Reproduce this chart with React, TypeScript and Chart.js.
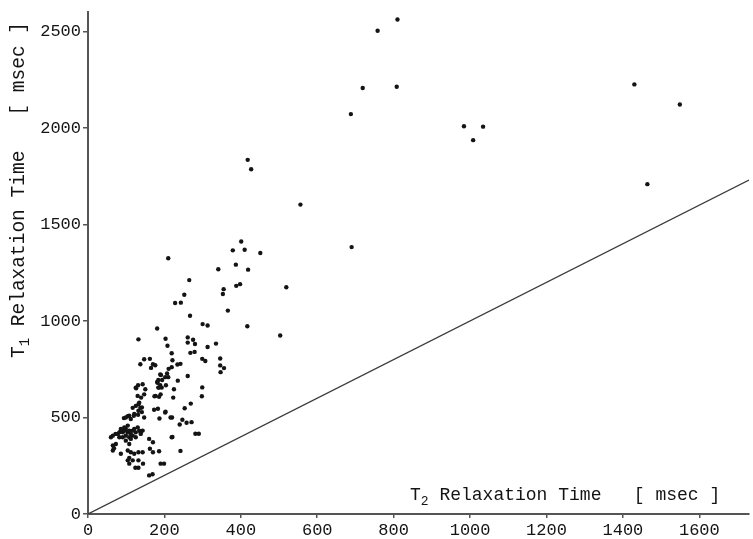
import React, { useEffect, useRef } from "react";
import { Chart, registerables } from "chart.js";

Chart.register(...registerables);

// T2 relaxation time (x, msec) and T1 relaxation time (y, msec) per measured point
const T2_MSEC = [
  810, 758, 719, 808, 688, 984, 1034, 1008, 1430, 1549, 1464, 556, 690, 418, 427, 519, 503,
  401, 379, 410, 451, 210, 341, 387, 419, 265, 355, 353, 388, 398, 252, 228, 243, 366, 267, 300,
  313, 417, 181, 132, 203, 208, 261, 261, 275, 280, 313, 335, 268, 279, 219, 221, 147, 162, 137,
  170, 176, 165, 299, 307, 346, 346, 356, 347, 219, 211, 207, 189, 202, 194, 184, 182, 189, 193,
  204, 210, 235, 225, 261, 223, 174, 186, 203, 220, 253, 269, 247, 240, 258, 271, 221, 242, 281,
  290, 299, 298, 150, 131, 143, 147, 139, 126, 132, 137, 125, 117, 141, 131, 120, 104, 94, 147,
  183, 187, 173, 234, 242, 181, 184, 191,
  60, 65, 72, 78, 82, 86, 91, 95, 99, 104, 108, 112, 117, 121, 125, 134, 138, 143, 82, 91, 99,
  108, 112, 117, 125, 95, 104, 86, 130, 138,
  65, 73, 65, 68, 86, 99, 108, 104, 112, 108, 104, 108, 117, 121, 132, 143, 132, 144, 132, 124,
  160, 170, 162, 170, 186, 190, 199, 160, 169, 202, 216, 219,
  125, 130, 134, 141, 132, 121, 108, 99, 112, 186, 190, 177,
];
const T1_MSEC = [
  2562, 2504, 2207, 2214, 2072, 2009, 2007, 1937, 2226, 2122, 1709, 1603, 1383, 1835, 1786, 1175, 925,
  1412, 1366, 1369, 1352, 1325, 1268, 1292, 1266, 1212, 1165, 1140, 1182, 1191, 1136, 1093, 1095, 1054, 1027, 984,
  977, 973, 961, 905, 908, 872, 915, 888, 903, 881, 865, 883, 835, 840, 833, 797, 802, 804, 776,
  776, 771, 757, 804, 793, 806, 770, 756, 735, 761, 752, 728, 723, 709, 694, 694, 680, 668, 655,
  667, 709, 691, 646, 715, 603, 610, 607, 530, 500, 548, 572, 488, 464, 473, 476, 399, 327, 416,
  416, 656, 610, 646, 667, 672, 620, 603, 651, 569, 550, 560, 550, 528, 514, 509, 507, 497, 500,
  545, 495, 540, 775, 778, 684, 655, 720,
  398, 406, 415, 415, 423, 432, 423, 432, 441, 423, 432, 415, 432, 441, 423, 432, 423, 432, 398, 398, 406,
  398, 389, 406, 398, 449, 458, 441, 449, 415,
  355, 363, 329, 341, 312, 380, 363, 329, 320, 291, 278, 261, 278, 312, 320, 320, 278, 261, 240, 240,
  389, 372, 338, 320, 325, 261, 261, 200, 206, 526, 500, 398,
  655, 612, 577, 552, 535, 518, 509, 500, 492, 655, 620, 612,
];

const X_TICKS = [0, 200, 400, 600, 800, 1000, 1200, 1400, 1600];
const Y_TICKS = [0, 500, 1000, 1500, 2000, 2500];
const X_MAX = 1730;
const Y_MAX = 2600;
const IDENTITY_ENDS = [0, X_MAX];

const X_TITLE = { main: "T", sub: "2", rest: " Relaxation Time   [ msec ]" };
const Y_TITLE = { main: "T", sub: "1", rest: " Relaxation Time   [ msec ]" };

const FONT = '"Liberation Mono", "DejaVu Sans Mono", monospace';
const INK = "#141414";
const AXIS = "#555555";

function drawSubText(ctx: CanvasRenderingContext2D, t: { main: string; sub: string; rest: string }, size: number) {
  ctx.textAlign = "left";
  ctx.textBaseline = "alphabetic";
  ctx.font = `${size}px ${FONT}`;
  ctx.fillText(t.main, 0, 0);
  let w = ctx.measureText(t.main).width;
  ctx.font = `${Math.round(size * 0.7)}px ${FONT}`;
  ctx.fillText(t.sub, w, size * 0.28);
  w += ctx.measureText(t.sub).width;
  ctx.font = `${size}px ${FONT}`;
  ctx.fillText(t.rest, w, 0);
}

const titlePlugin = {
  id: "axisTitles",
  afterDraw(chart: any) {
    const ctx: CanvasRenderingContext2D = chart.ctx;
    ctx.save();
    ctx.fillStyle = INK;
    ctx.translate(410, 500);
    drawSubText(ctx, X_TITLE, 18);
    ctx.restore();

    ctx.save();
    ctx.fillStyle = INK;
    ctx.translate(24, 358);
    ctx.rotate(-Math.PI / 2);
    drawSubText(ctx, Y_TITLE, 19.5);
    ctx.restore();
  },
};

export default function App() {
  const ref = useRef<HTMLCanvasElement | null>(null);

  useEffect(() => {
    document.body.style.margin = "0";
    const canvas = ref.current;
    if (!canvas) return;
    const points = T2_MSEC.map((x, i) => ({ x, y: T1_MSEC[i] }));
    const plain = (v: any) => String(v);
    const chart = new Chart(canvas, {
      type: "scatter",
      data: {
        datasets: [
          {
            type: "line",
            data: IDENTITY_ENDS.map((v) => ({ x: v, y: v })),
            borderColor: "#3a3a3a",
            borderWidth: 1.3,
            pointRadius: 0,
            fill: false,
          } as any,
          {
            data: points,
            backgroundColor: INK,
            borderWidth: 0,
            pointRadius: 2.2,
          },
        ],
      },
      plugins: [titlePlugin],
      options: {
        animation: false,
        responsive: false,
        layout: { padding: { top: 8, right: 0, left: 0, bottom: 0 } },
        plugins: { legend: { display: false }, tooltip: { enabled: false } },
        scales: {
          x: {
            type: "linear",
            min: 0,
            max: X_MAX,
            afterBuildTicks: (s: any) => {
              s.ticks = X_TICKS.map((v) => ({ value: v }));
            },
            afterFit: (s: any) => {
              s.height = 25;
            },
            ticks: {
              font: { family: FONT, size: 17 },
              color: INK,
              padding: 2,
              maxRotation: 0,
              autoSkip: false,
              callback: plain,
            },
            grid: { drawOnChartArea: false, drawTicks: true, tickLength: 4, color: AXIS, lineWidth: 1.5 },
            border: { display: true, color: AXIS, width: 2 },
          },
          y: {
            type: "linear",
            min: 0,
            max: Y_MAX,
            afterBuildTicks: (s: any) => {
              s.ticks = Y_TICKS.map((v) => ({ value: v }));
            },
            afterFit: (s: any) => {
              s.width = 88;
            },
            ticks: {
              font: { family: FONT, size: 17 },
              color: INK,
              padding: 2,
              autoSkip: false,
              callback: plain,
            },
            grid: { drawOnChartArea: false, drawTicks: true, tickLength: 5, color: AXIS, lineWidth: 1.5 },
            border: { display: true, color: AXIS, width: 2 },
          },
        },
      } as any,
    });
    return () => chart.destroy();
  }, []);

  return (
    <div style={{ position: "absolute", left: 0, top: 0, width: 753, height: 539, background: "#ffffff" }}>
      <canvas ref={ref} width={753} height={539} style={{ display: "block" }} />
    </div>
  );
}
